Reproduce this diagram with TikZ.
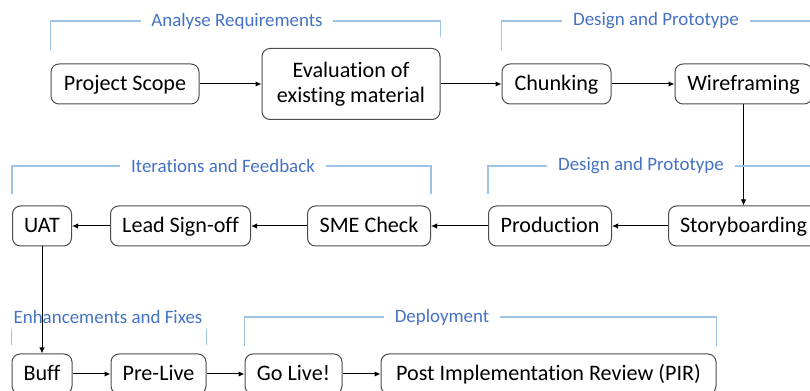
\documentclass[tikz,border=0pt]{standalone}
\usepackage{fontspec}
\setmainfont{Carlito}[Ligatures=NoCommon]
\usepackage{xcolor}
\usepackage{tikz}
\usetikzlibrary{arrows.meta, positioning}
\definecolor{phaseblue}{HTML}{4472C4}
\definecolor{phaseline}{HTML}{9DC3E6}

\begin{document}
\begin{tikzpicture}[
    x=0.75pt, y=-0.75pt,
    box/.style={
        rectangle,
        rounded corners=6pt,
        draw=black!70,
        fill=white,
        line width=0.75pt,
        minimum height=30pt,
        inner xsep=6pt,
        inner ysep=2pt,
        text height=14pt,
        text depth=3.5pt,
        align=center,
        font=\fontsize{16.6}{18.75}\selectfont
    },
    myarrow/.style={
        -{Latex[length=4.5pt,width=4pt]},
        line width=0.75pt,
        draw=black
    },
    bracket/.style={
        draw=phaseline,
        line width=0.9pt
    },
    phase/.style={
        fill=white,
        text=phaseblue,
        inner xsep=8pt,
        inner ysep=2pt,
        font=\fontsize{14.2}{16}\selectfont
    }
]
\clip (0,0) rectangle (810,391);

% first row
\node[box, minimum width=111pt] (scope) at (125,84) {Project Scope};
\node[box, minimum width=133.5pt, minimum height=53.25pt, text height=, text depth=, right=46.5pt of scope] (evaluation) {Evaluation of\\existing material};
\node[box, minimum width=81.75pt, right=45.75pt of evaluation] (chunking) {Chunking};
\node[box, minimum width=102.75pt, right=47.25pt of chunking] (wireframing) {Wireframing};

% second row, right to left
\node[box, minimum width=112.5pt, below=75.75pt of wireframing] (storyboarding) {Storyboarding};
\node[box, minimum width=92.25pt, left=42pt of storyboarding] (production) {Production};
\node[box, minimum width=92.25pt, left=42.75pt of production] (sme) {SME Check};
\node[box, minimum width=105pt, left=42pt of sme] (signoff) {Lead Sign-off};
\node[box, minimum width=44.25pt, left=28.5pt of signoff] (uat) {UAT};

% third row
\node[box, minimum width=45pt, below=80.25pt of uat] (buff) {Buff};
\node[box, minimum width=71.25pt, right=28.5pt of buff] (prelive) {Pre-Live};
\node[box, minimum width=72.75pt, right=28.5pt of prelive] (golive) {Go Live!};
\node[box, minimum width=251.25pt, right=28.5pt of golive] (pir) {Post Implementation Review (PIR)};

\draw[myarrow] (scope) -- (evaluation);
\draw[myarrow] (evaluation) -- (chunking);
\draw[myarrow] (chunking) -- (wireframing);
\draw[myarrow] (wireframing) -- (storyboarding);
\draw[myarrow] (storyboarding) -- (production);
\draw[myarrow] (production) -- (sme);
\draw[myarrow] (sme) -- (signoff);
\draw[myarrow] (signoff) -- (uat);
\draw[myarrow] (uat) -- (buff);
\draw[myarrow] (buff) -- (prelive);
\draw[myarrow] (prelive) -- (golive);
\draw[myarrow] (golive) -- (pir);

% phase brackets
\draw[bracket] (scope.west |- 0,50) -- (scope.west |- 0,21) -- (evaluation.east |- 0,21) -- (evaluation.east |- 0,37);
\node[phase] (analyse) at (237,21) {Analyse Requirements};
\draw[bracket] (chunking.west |- 0,50) -- (chunking.west |- 0,21) -- (wireframing.east |- 0,21) -- (wireframing.east |- 0,50);
\node[phase] (design1) at (656,21) {Design and Prototype};
\draw[bracket] (uat.west |- 0,194) -- (uat.west |- 0,166) -- (sme.east |- 0,166) -- (sme.east |- 0,194);
\node[phase] (iterations) at (223,166) {Iterations and Feedback};
\draw[bracket] (production.west |- 0,194) -- (production.west |- 0,166) -- (storyboarding.east |- 0,166) -- (storyboarding.east |- 0,194);
\node[phase] (design2) at (641,166) {Design and Prototype};
\draw[bracket] (buff.west |- 0,329) -- (buff.west |- 0,345);
\draw[bracket] (prelive.east |- 0,329) -- (prelive.east |- 0,345);
\node[phase, fill=none] (enhance) at (108,317) {Enhancements and Fixes};
\draw[bracket] (golive.west |- 0,346) -- (golive.west |- 0,317) -- (pir.east |- 0,317) -- (pir.east |- 0,346);
\node[phase] (deploy) at (442,317) {Deployment};

\end{tikzpicture}
\end{document}
